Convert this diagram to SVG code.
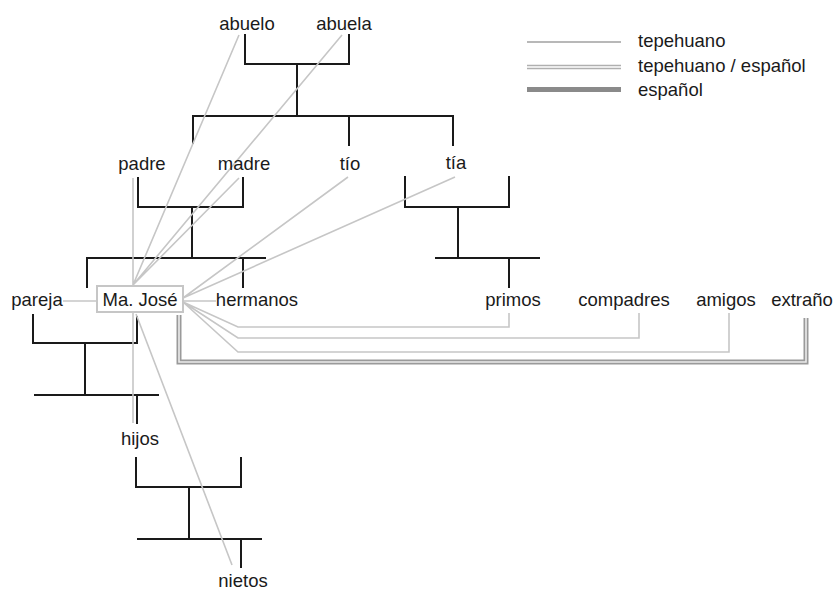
<svg xmlns="http://www.w3.org/2000/svg" width="838" height="591" viewBox="0 0 838 591">
<style>
text{font-family:"Liberation Sans",Arial,sans-serif;font-size:18.5px;fill:#1a1a1a;text-anchor:middle}
.lt{text-anchor:start}
.k{stroke:#1a1a1a;stroke-width:2;fill:none;stroke-linecap:square}
.g{stroke:#c6c6c6;stroke-width:1.6;fill:none}
.d1{stroke:#9a9a9a;stroke-width:5;fill:none}
.d2{stroke:#ececec;stroke-width:1.6;fill:none}
</style>
<rect width="838" height="591" fill="#fff"/>
<g id="kinship-lines">
<path class="k" d="M245,35V64H349V35M297,64V116M193,143V116H453V145M349,116V145"/>
<path class="k" d="M138,178V207H243V178M192,207V258M87,287V258H265M243,258V287"/>
<path class="k" d="M405,177V207H509V177M458,207V258M436,258H539M509,258V287"/>
<path class="k" d="M33,315V343H137V317M85,343V395M35,395H158M137,395V423"/>
<path class="k" d="M136,458V487H241V458M189,487V539M138,539H261M241,539V567"/>
</g>
<g id="connectors">
<path class="g" d="M239,35L133,285M342,35L133,285M239,178L133,285M133,178V285"/>
<path class="g" d="M348,177L183,298M455,177L183,298"/>
<path class="g" d="M63,301H97M183,301H216"/>
<path class="g" d="M183,302L238,327H509V313M183,302L238,338H639V313M183,302L238,352H729V313"/>
<path class="g" d="M133,313V423M136,314L232,565"/>
<path class="d1" d="M179,315V362H806V318"/>
<path class="d2" d="M179,315V362H806V318"/>
</g>
<g id="node-majose">
<rect x="97" y="286" width="86" height="26" fill="#fff" stroke="#c6c6c6" stroke-width="2"/>
<text x="140" y="306">Ma. José</text>
</g>
<g id="node-abuelo"><text x="247" y="30">abuelo</text></g>
<g id="node-abuela"><text x="344" y="30">abuela</text></g>
<g id="node-padre"><text x="142" y="170">padre</text></g>
<g id="node-madre"><text x="244" y="170">madre</text></g>
<g id="node-tio"><text x="350" y="170">tío</text></g>
<g id="node-tia"><text x="456" y="169">tía</text></g>
<g id="node-pareja"><text x="37" y="306">pareja</text></g>
<g id="node-hermanos"><text x="257" y="306">hermanos</text></g>
<g id="node-primos"><text x="513" y="306">primos</text></g>
<g id="node-compadres"><text x="624" y="306">compadres</text></g>
<g id="node-amigos"><text x="726" y="306">amigos</text></g>
<g id="node-extrano"><text x="802" y="306">extraño</text></g>
<g id="node-hijos"><text x="140" y="445">hijos</text></g>
<g id="node-nietos"><text x="243" y="587">nietos</text></g>
<g id="legend">
<line x1="527" y1="42" x2="621" y2="42" stroke="#a0a0a0" stroke-width="1.3"/>
<line x1="527" y1="65.5" x2="621" y2="65.5" stroke="#b0b0b0" stroke-width="1.3"/>
<line x1="527" y1="68.5" x2="621" y2="68.5" stroke="#b0b0b0" stroke-width="1.3"/>
<line x1="527" y1="89.5" x2="621" y2="89.5" stroke="#8a8a8a" stroke-width="5"/>
<text class="lt" x="638" y="47">tepehuano</text>
<text class="lt" x="638" y="72">tepehuano / español</text>
<text class="lt" x="638" y="96">español</text>
</g>
</svg>
